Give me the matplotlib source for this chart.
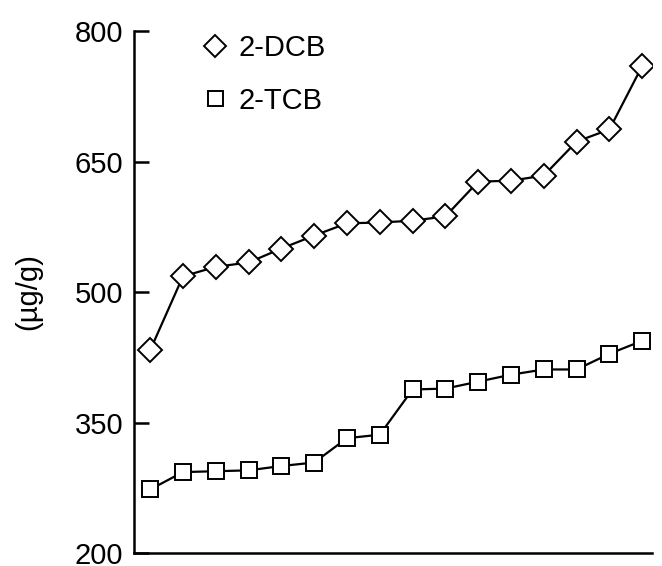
import numpy as np
import matplotlib
matplotlib.use('Agg')
import matplotlib.pyplot as plt

plt.rcParams['font.family'] = ['Liberation Sans', 'DejaVu Sans']

# sample index (sorted by concentration)
samples = np.arange(1, 17)
dcb = [433, 518, 529, 534, 550, 565, 579, 580, 582, 587, 627, 628, 634, 673, 687, 760]
tcb = [273, 293, 294, 295, 300, 304, 332, 336, 388, 389, 397, 405, 411, 411, 429, 444]
y_ticks = [200, 350, 500, 650, 800]


def plot():
    fig = plt.figure(figsize=(6.62, 5.66), dpi=100)
    ax = fig.add_axes([0.203, 0.023, 0.782, 0.922])

    ax.plot(samples, dcb, color='black', lw=1.6, marker='D', ms=12,
            mfc='white', mec='black', mew=1.4, label='2-DCB')
    ax.plot(samples, tcb, color='black', lw=1.6, marker='s', ms=12,
            mfc='white', mec='black', mew=1.4, label='2-TCB')

    ax.set_xlim(0.52, 16.3)
    ax.set_ylim(200, 800)
    ax.set_yticks(y_ticks)
    ax.set_xticks([])
    ax.tick_params(axis='y', direction='in', length=11, width=1.8,
                   labelsize=21, pad=8)
    for side in ['top', 'right']:
        ax.spines[side].set_visible(False)
    for side in ['left', 'bottom']:
        ax.spines[side].set_linewidth(1.8)

    ax.set_ylabel('(\u00b5g/g)', fontsize=21)
    ax.yaxis.set_label_coords(-0.178, 0.5)

    leg = ax.legend(loc='upper left', bbox_to_anchor=(0.083, 1.045), frameon=False,
                    fontsize=21, handlelength=0.8, handletextpad=0.4,
                    labelspacing=0.85, markerscale=0.9)
    for line in leg.get_lines():
        line.set_linestyle('none')

    fig.savefig('out.png', dpi=100)


if __name__ == '__main__':
    plot()
